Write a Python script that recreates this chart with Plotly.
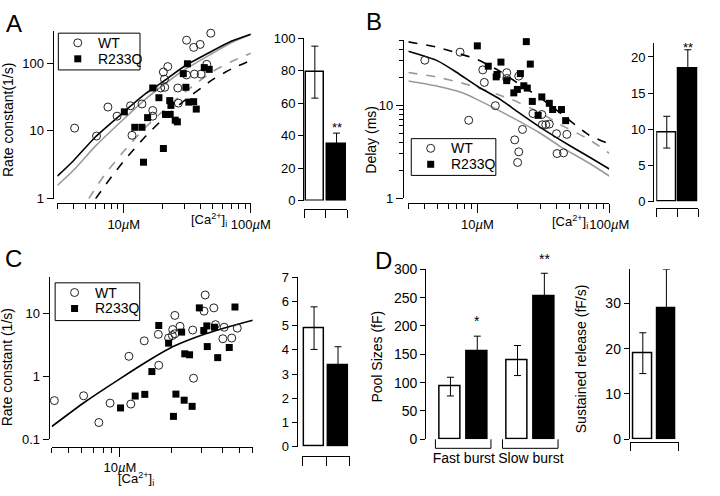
import math
import plotly.graph_objects as go

W, H = 720, 496
FONT = "Arial, Liberation Sans, Helvetica, sans-serif"
GRAY = "#9a9a9a"

# ---------------- Panel A: rate constant vs [Ca2+]i ----------------
A_wt_x = [4.1, 6.1, 7.5, 8.85, 11.3, 11.6, 13.9, 16.9, 16.9, 19.5, 20.5, 20.9, 21.0, 22.2,
          26.6, 26.9, 31.2, 31.2, 35.5, 36.0, 39.9, 40.6, 45.0, 48.4]
A_wt_y = [11.0, 8.4, 22.5, 16.5, 23.5, 8.6, 25, 20, 16.5, 43, 74, 58, 44, 89,
          43, 25.7, 218, 67, 171, 69, 189, 69, 96, 277]
A_mut_x = [10.1, 12.2, 13.9, 14.3, 15.4, 16.9, 18.9, 20.5, 21.3, 23.0, 23.5, 23.2, 25.4, 26.4,
           29.4, 30.8, 31.7, 32.5, 35.5, 37.2, 43.0, 47.0]
A_mut_y = [19.1, 11.3, 11.3, 3.45, 15.7, 43, 30.9, 5.5, 17.5, 28, 23.8, 17.5, 14.4, 13.6,
           70, 44, 98, 26.6, 27, 21, 86, 81]

A_fit_x = [3, 4, 6, 10, 15, 20, 30, 50, 70, 100]
A_fit_wt_black = [2.15, 3.6, 8.2, 19, 36, 52, 90, 152, 210, 268]
A_fit_wt_gray = [1.57, 2.6, 6.0, 15, 30, 46, 80, 140, 200, 265]
A_dash_black_x = [6, 8, 10, 15, 20, 30, 50, 70, 100]
A_dash_black_y = [1.0, 2.1, 3.6, 8.5, 14.5, 28, 57, 82, 110]
A_dash_gray_x = [5.3, 7, 10, 15, 20, 30, 50, 70, 100]
A_dash_gray_y = [1.0, 2.2, 5.0, 11.5, 19, 37, 75, 105, 140]

A_bar = [79, 35]
A_err = [16, 6.5]
A_sig = ["", "**"]
A_sig_y = [None, 51]

# ---------------- Panel B: delay vs [Ca2+]i ----------------
B_wt_x = [4.0, 7.4, 8.6, 11.0, 11.3, 13.7, 16.7, 16.7, 20.6, 19.2, 20.6, 20.2, 22.0, 26.4,
          30.8, 31.1, 33.0, 35.1, 39.8, 40.2, 45.0, 47.7]
B_wt_y = [30.5, 37.2, 6.9, 24, 17.6, 9.9, 22.4, 19.4, 20.6, 4.25, 3.16, 2.43, 5.5, 8.15,
          7.96, 6.18, 6.18, 6.28, 4.95, 3.03, 3.08, 4.87]
B_mut_x = [10.0, 12.1, 13.9, 14.1, 15.1, 16.7, 18.9, 20.1, 21.2, 22.5, 23.5, 23.9, 25.2, 26.1,
           28.9, 30.8, 35.1, 37.2, 43.4, 46.7]
B_mut_y = [43.5, 26.3, 20.2, 21.4, 29.1, 18.4, 13.6, 14.8, 21.9, 16.2, 48.3, 15.3, 27.7, 11.0,
           7.8, 12.3, 10.5, 9.0, 9.0, 6.84]

B_fit_x = [3, 5, 7, 10, 15, 20, 30, 50, 70, 100]
B_fit_wt_black = [38, 30, 22.5, 16, 11.5, 8.6, 5.8, 3.7, 2.8, 2.07]
B_dash_black = [48, 42, 36.5, 31, 23, 17.5, 12, 6.9, 4.8, 3.84]
B_gray_x = [3, 5, 7.7, 10, 18, 30, 42.6, 70, 100]
B_dash_gray = [22.5, 20, 17.3, 15.5, 11.6, 8.3, 6.2, 4.3, 3.05]
B_fit_gray = [18.2, 16, 13.6, 11.5, 7.5, 5.0, 3.6, 2.4, 1.74]

B_bar = [9.6, 18.4]
B_err = [2.2, 2.6]
B_sig = ["", "**"]
B_sig_y = [None, 22.6]

# ---------------- Panel C ----------------
C_wt_x = [4.14, 6.14, 7.54, 8.77, 11.6, 11.3, 13.9, 16.9, 16.8, 19.3, 20.3, 20.4, 21.0, 21.0,
          22.5, 26.7, 27.0, 31.6, 31.1, 35.5, 36.3, 40.8, 40.1, 45.2, 48.7]
C_wt_y = [0.414, 0.494, 0.185, 0.377, 0.364, 2.1, 3.7, 1.51, 4.7, 4.1, 4.5, 5.6, 4.8, 9.4,
          6.3, 5.5, 0.94, 19.9, 11.0, 12.4, 6.7, 6.1, 4.0, 4.1, 5.9]
C_mut_x = [10.1, 12.3, 14.0, 14.3, 15.4, 16.9, 19.3, 20.6, 21.3, 23.0, 23.8, 24.0, 25.6, 26.5,
           29.2, 31.0, 32.3, 32.5, 35.8, 37.4, 43.7, 47.2]
C_mut_y = [0.316, 0.489, 0.52, 0.094, 1.2, 6.5, 3.4, 0.232, 0.525, 5.1, 0.42, 2.3, 2.22, 0.335,
           12.4, 5.4, 6.4, 3.0, 6.1, 2.0, 2.9, 12.8]
C_fit_x = [4, 6.3, 10, 15, 20.5, 31.8, 45, 60]
C_fit_y = [0.16, 0.40, 0.92, 1.85, 3.0, 4.8, 6.4, 7.9]

C_bar = [4.9, 3.35]
C_err = [0.88, 0.78]

# ---------------- Panel D ----------------
D_groups = ["Fast burst", "Slow burst"]
D_wt = [93, 139]
D_wt_err = [16.5, 26.5]
D_mut = [155, 253]
D_mut_err = [27, 40]
D_sig = ["*", "**"]
D_sig_y = [209, 318]

S_bar = [19.0, 28.8]
S_err = [4.5, 8.7]

LEGEND_NAMES = ["WT", "R233Q"]

# ---------------- helpers ----------------
def px2x(px):
    return px / W


def py2y(py):
    return 1 - py / H


def xdom(p0, p1):
    return [p0 / W, p1 / W]


def ydom(top, bottom):
    return [1 - bottom / H, 1 - top / H]


base = dict(showline=True, linecolor="black", linewidth=1, ticks="outside",
            tickcolor="black", tickwidth=1, showgrid=False, zeroline=False,
            tickfont=dict(family=FONT, size=13, color="black"))
base14 = dict(base, tickfont=dict(family=FONT, size=14, color="black"))


def minor(vals, ln=5):
    return dict(tickmode="array", tickvals=vals, ticks="outside", ticklen=ln,
                tickcolor="black", tickwidth=1, showgrid=False)


fig = go.Figure()

WT_MK = dict(symbol="circle-open", size=8, color="#222", line=dict(width=1, color="#222"))
MUT_MK = dict(symbol="square", size=7, color="black")


def curve(x, y, xa, ya, color, dash="solid", width=1.6):
    fig.add_trace(go.Scatter(x=x, y=y, mode="lines", xaxis=xa, yaxis=ya,
                             line=dict(color=color, width=width, dash=dash, shape="spline", smoothing=0.6),
                             showlegend=False, hoverinfo="skip"))


def points(xw, yw, xm, ym, xa, ya):
    fig.add_trace(go.Scatter(x=xw, y=yw, mode="markers", xaxis=xa, yaxis=ya, name="WT",
                             marker=WT_MK, showlegend=False, cliponaxis=False))
    fig.add_trace(go.Scatter(x=xm, y=ym, mode="markers", xaxis=xa, yaxis=ya, name="R233Q",
                             marker=MUT_MK, showlegend=False, cliponaxis=False))


def bars(xs, vals, errs, xa, ya, width=0.85):
    colors = ["white", "black"]
    for i, (xv, v, e) in enumerate(zip(xs, vals, errs)):
        fig.add_trace(go.Bar(x=[xv], y=[v], xaxis=xa, yaxis=ya, width=width,
                             marker=dict(color=colors[i % 2], line=dict(color="black", width=1.5)),
                             error_y=dict(type="data", array=[e], color="black", thickness=1, width=3.5),
                             showlegend=False, hoverinfo="skip"))


# Panel A
curve(A_dash_gray_x, A_dash_gray_y, "x", "y", GRAY, "dash")
curve(A_dash_black_x, A_dash_black_y, "x", "y", "black", "dash")
curve(A_fit_x, A_fit_wt_gray, "x", "y", GRAY)
curve(A_fit_x, A_fit_wt_black, "x", "y", "black")
points(A_wt_x, A_wt_y, A_mut_x, A_mut_y, "x", "y")
bars([0, 1], A_bar, A_err, "x2", "y2")

# Panel B
curve(B_gray_x, B_dash_gray, "x3", "y3", GRAY, "dash")
curve(B_gray_x, B_fit_gray, "x3", "y3", GRAY)
curve(B_fit_x, B_dash_black, "x3", "y3", "black", "dash")
curve(B_fit_x, B_fit_wt_black, "x3", "y3", "black")
points(B_wt_x, B_wt_y, B_mut_x, B_mut_y, "x3", "y3")
bars([0, 1], B_bar, B_err, "x4", "y4", width=0.88)

# Panel C
curve(C_fit_x, C_fit_y, "x5", "y5", "black")
points(C_wt_x, C_wt_y, C_mut_x, C_mut_y, "x5", "y5")
bars([0, 1], C_bar, C_err, "x6", "y6")

# Panel D
gpos = [0.0, 2.5]
bw = 0.78
xs_d, vals_d, errs_d = [], [], []
for g, w, we, m, me in zip(gpos, D_wt, D_wt_err, D_mut, D_mut_err):
    xs_d += [g, g + 1]
    vals_d += [w, m]
    errs_d += [we, me]
bars(xs_d, vals_d, errs_d, "x7", "y7", width=bw)
bars([0, 1], S_bar, S_err, "x8", "y8", width=0.78)

log = math.log10
maj_dec = [10, 100]
min_A = [3, 4, 5, 6, 7, 8, 9, 20, 30, 40, 50, 60, 70, 80, 90]
mu_labels = ["10<i>µ</i>M", "100<i>µ</i>M"]

AX = {}
AX["xaxis"] = dict(base, type="log", range=[log(3), 2], domain=xdom(59, 258), anchor="free",
                   position=py2y(202), tickmode="array", tickvals=maj_dec, ticktext=mu_labels,
                   ticklen=9, minor=minor(min_A))
AX["yaxis"] = dict(base, type="log", range=[0, log(300)], domain=ydom(23.6, 197), anchor="free",
                   position=px2x(54), tickmode="array", tickvals=[1, 10, 100],
                   ticktext=["1", "10", "100"], ticklen=6)
AX["xaxis2"] = dict(base, range=[-0.5, 1.5], domain=xdom(312.7, 357.3), anchor="free",
                    position=py2y(208), tickmode="array", tickvals=[-0.5, 0.5, 1.5],
                    showticklabels=False, ticklen=8)
AX["yaxis2"] = dict(base, range=[0, 100], domain=ydom(31, 199), anchor="free", position=px2x(311.7),
                    tickmode="array", tickvals=[0, 20, 40, 60, 80, 100], ticklen=5)
AX["xaxis3"] = dict(base, type="log", range=[log(3), 2], domain=xdom(420, 626.7), anchor="free",
                    position=py2y(201.7), tickmode="array", tickvals=maj_dec, ticktext=mu_labels,
                    ticklen=9, minor=minor(min_A))
AX["yaxis3"] = dict(base, type="log", range=[0, log(50)], domain=ydom(33.3, 196.7), anchor="free",
                    position=px2x(414.3), tickmode="array", tickvals=[1, 10], ticktext=["1", "10"],
                    ticklen=7, minor=minor([2, 3, 4, 5, 6, 7, 8, 9, 20, 30, 40, 50], 4))
AX["xaxis4"] = dict(base, range=[-0.5, 1.5], domain=xdom(675, 718.3), anchor="free",
                    position=py2y(207), tickmode="array", tickvals=[-0.5, 0.5, 1.5],
                    showticklabels=False, ticklen=8)
AX["yaxis4"] = dict(base, range=[0, 22], domain=ydom(35.7, 200), anchor="free", position=px2x(671.7),
                    tickmode="array", tickvals=[0, 5, 10, 15, 20], ticklen=5)
AX["xaxis5"] = dict(base, type="log", range=[log(4), log(60)], domain=xdom(53.3, 260), anchor="free",
                    position=py2y(453.3), tickmode="array", tickvals=[10], ticktext=["10<i>µ</i>M"],
                    ticklen=9, minor=minor([4, 5, 6, 7, 8, 9, 20, 30, 40, 50, 60]))
AX["yaxis5"] = dict(base, type="log", range=[-1, 1.58], domain=ydom(278.3, 445.7), anchor="free",
                    position=px2x(50), tickmode="array", tickvals=[0.1, 1, 10],
                    ticktext=["0.1", "1", "10"], ticklen=6)
AX["xaxis6"] = dict(base, range=[-0.5, 1.5], domain=xdom(310.7, 360), anchor="free",
                    position=py2y(462.7), tickmode="array", tickvals=[-0.5, 0.5, 1.5],
                    showticklabels=False, ticklen=9)
AX["yaxis6"] = dict(base, range=[0, 7], domain=ydom(278.3, 453.3), anchor="free", position=px2x(305),
                    tickmode="array", tickvals=list(range(8)), ticklen=5)
AX["xaxis7"] = dict(base14, showline=False, ticks="", range=[-0.627, 4.083], domain=xdom(446, 576),
                    anchor="free", position=py2y(455), tickmode="array",
                    tickvals=[g + 0.5 for g in gpos], ticktext=D_groups)
AX["yaxis7"] = dict(base14, range=[0, 300], domain=ydom(270, 445.7), anchor="free",
                    position=px2x(437.3), tickmode="array",
                    tickvals=[0, 50, 100, 150, 200, 250, 300], ticklen=5)
AX["xaxis8"] = dict(base, range=[-0.53, 1.53], domain=xdom(648.3, 698.3), anchor="free",
                    position=py2y(448.3), tickmode="array", tickvals=[-0.52, 1.52],
                    showticklabels=False, ticklen=8)
AX["yaxis8"] = dict(base14, range=[0, 37.5], domain=ydom(270, 445.7), anchor="free",
                    position=px2x(646.7), tickmode="array", tickvals=[0, 10, 20, 30], ticklen=5)
# overlay axis in pixel units, used only for the legend glyphs
AX["xaxis9"] = dict(range=[0, W], domain=[0, 1], visible=False, anchor="y9", fixedrange=True)
AX["yaxis9"] = dict(range=[H, 0], domain=[0, 1], visible=False, anchor="x9", fixedrange=True)

fig.update_layout(
    width=W, height=H, margin=dict(l=0, r=0, t=0, b=0),
    paper_bgcolor="white", plot_bgcolor="rgba(0,0,0,0)",
    font=dict(family=FONT, size=13, color="black"),
    bargap=0, showlegend=False, hovermode=False, **AX,
)

ann = []
shapes = []


def text(x, y, s, size=13, angle=0, xanchor="center", yanchor="middle"):
    ann.append(dict(x=px2x(x), y=py2y(y), xref="paper", yref="paper", text=s, showarrow=False,
                    textangle=angle, xanchor=xanchor, yanchor=yanchor,
                    font=dict(family=FONT, size=size, color="black")))


def legend_box(x0, y0, w=86, h=38):
    shapes.append(dict(type="rect", xref="paper", yref="paper", x0=px2x(x0), x1=px2x(x0 + w),
                       y0=py2y(y0 + h), y1=py2y(y0), line=dict(color="black", width=1),
                       fillcolor="white", layer="below"))
    rows = [y0 + 10, y0 + 26.5]
    for mk, name, ry in zip([WT_MK, MUT_MK], LEGEND_NAMES, rows):
        fig.add_trace(go.Scatter(x=[x0 + 20], y=[ry], mode="markers", xaxis="x9", yaxis="y9",
                                 marker=mk, showlegend=False, hoverinfo="skip", cliponaxis=False))
        text(x0 + 39, ry, name, 14, xanchor="left")


legend_box(60, 26, 84, 38)
legend_box(423, 135, 87, 38)
legend_box(56.7, 284, 87, 39)

# panel letters
text(14, 16, "A", 24)
text(385, 14, "B", 24)
text(14, 259, "C", 24)
text(394, 261, "D", 24)

# axis titles
text(9, 116, "Rate constant(1/s)", 14, -90)
text(381.7, 136, "Delay (ms)", 14, -90)
text(7.5, 371, "Rate constant (1/s)", 14, -90)
text(388, 360, "Pool Sizes (fF)", 14, -90)
text(597.5, 362, "Sustained release (fF/s)", 14, -90)

ca = "[Ca<sup>2+</sup>]<sub>i</sub>"
text(236, 219, ca, 13, xanchor="right")
text(607, 221, ca, 13, xanchor="right")
text(140, 487, ca, 13)


def data_to_paper(ax_name, v):
    a = AX[ax_name]
    r0, r1 = a["range"]
    d0, d1 = a["domain"]
    return d0 + (v - r0) / (r1 - r0) * (d1 - d0)


# significance marks
for xa, ya, xs, sig, sy in [("x2", "yaxis2", [0, 1], A_sig, A_sig_y),
                            ("x4", "yaxis4", [0, 1], B_sig, B_sig_y)]:
    for xv, s, yv in zip(xs, sig, sy):
        if s:
            ann.append(dict(x=xv, y=data_to_paper(ya, yv), xref=xa, yref="paper", text=s,
                            showarrow=False, font=dict(family=FONT, size=13, color="black")))
for g, s, yv in zip(gpos, D_sig, D_sig_y):
    ann.append(dict(x=g + 1, y=data_to_paper("yaxis7", yv), xref="x7", yref="paper", text=s,
                    showarrow=False, font=dict(family=FONT, size=14, color="black")))

# group brackets under the pool-size bars
for g in gpos:
    x0, x1 = g - bw / 2 - 0.17, g + 1 + bw / 2 + 0.12
    y_line, y_top = py2y(455), py2y(445.7)
    shapes.append(dict(type="line", xref="x7", yref="paper", x0=x0, x1=x1, y0=y_line, y1=y_line,
                       line=dict(color="black", width=1)))
    for xv in (x0, x1):
        shapes.append(dict(type="line", xref="x7", yref="paper", x0=xv, x1=xv, y0=y_line, y1=y_top,
                           line=dict(color="black", width=1)))

fig.update_layout(annotations=ann, shapes=shapes)

fig.write_html("out.html", config={"displayModeBar": False},
               post_script="document.body.style.margin='0px';")
